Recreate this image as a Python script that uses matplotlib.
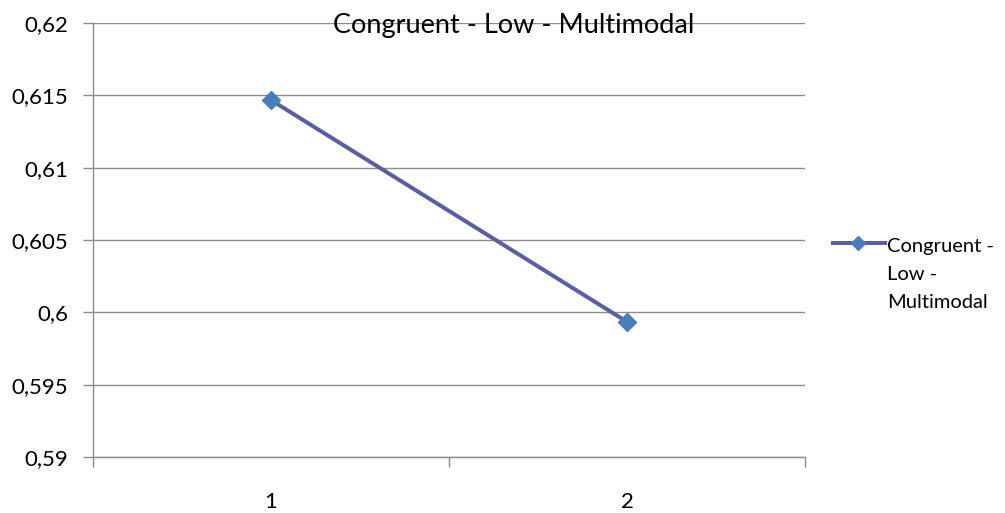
import matplotlib
matplotlib.use('Agg')
import matplotlib.pyplot as plt
from matplotlib.lines import Line2D
from matplotlib.ticker import FuncFormatter

plt.rcParams['font.family'] = ['Lato', 'DejaVu Sans']

# series data
categories = [1, 2]
values = [0.61468, 0.59935]
series_name = 'Congruent - Low - Multimodal'
legend_lines = ['Congruent -', 'Low -', 'Multimodal']
y_ticks = [0.59, 0.595, 0.6, 0.605, 0.61, 0.615, 0.62]

grid_col = '#8c8c8c'
line_col = '#5a5ea3'
marker_col = '#4a7ebb'
H = 513.0

fig = plt.figure(figsize=(10.05, 5.13), dpi=100)
ax = fig.add_axes([0.0925, 0.109, 0.7085, 0.846])

ax.plot(categories, values, color=line_col, lw=2.9, marker='D', ms=9.5,
        mfc=marker_col, mec=marker_col, zorder=3)

ax.set_xlim(0.5, 2.5)
ax.set_ylim(0.59, 0.62)
ax.set_yticks(y_ticks)
ax.yaxis.set_major_formatter(FuncFormatter(lambda v, p: ('%g' % v).replace('.', ',')))
ax.set_xticks(categories)
ax.set_xticks([0.5, 1.5, 2.5], minor=True)
ax.tick_params(axis='x', which='major', length=0, pad=25, labelsize=16)
ax.tick_params(axis='x', which='minor', length=7, color=grid_col, width=1)
ax.tick_params(axis='y', length=7, color=grid_col, width=1, pad=11, labelsize=16)
ax.grid(axis='y', color=grid_col, lw=1)
ax.set_axisbelow(True)

for s in ['top', 'right']:
    ax.spines[s].set_visible(False)
for s in ['left', 'bottom']:
    ax.spines[s].set_color(grid_col)
    ax.spines[s].set_linewidth(1)

fig.text(0.511, 1 - 33 / H, series_name, ha='center', va='baseline', fontsize=19.5)

# legend drawn by hand so the marker sits on the first text line
ly = 1 - 243 / H
fig.add_artist(Line2D([0.829, 0.881], [ly, ly], color=line_col, lw=2.9,
                      transform=fig.transFigure))
fig.add_artist(Line2D([0.854], [ly], marker='D', ms=7.5, mfc=marker_col,
                      mec=marker_col, transform=fig.transFigure))
for i, txt in enumerate(legend_lines):
    fig.text(0.883, 1 - (252 + 28 * i) / H, txt, ha='left', va='baseline',
             fontsize=14.5)

fig.savefig('out.png', dpi=100)
